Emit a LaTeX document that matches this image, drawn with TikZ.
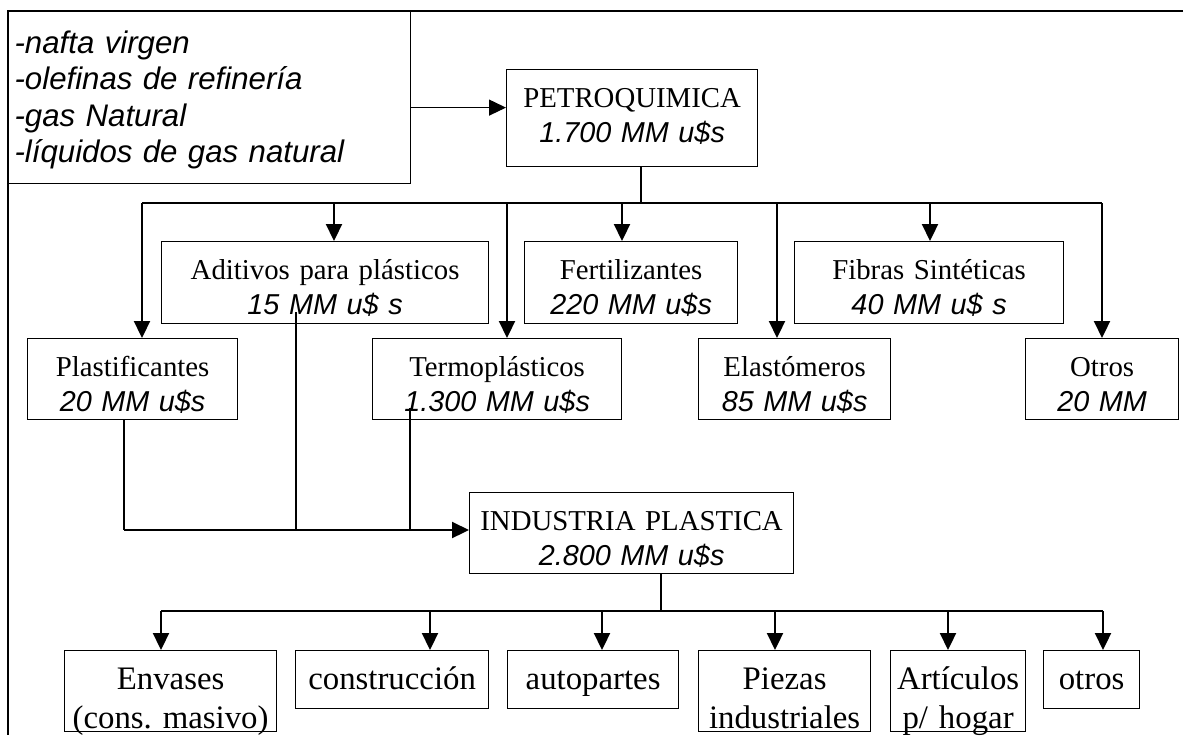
\documentclass[tikz,border=0pt]{standalone}
\usepackage{fontspec}
\setmainfont{Liberation Serif}
\newfontfamily\arialfam{Liberation Sans}
\usetikzlibrary{arrows.meta,calc}
\newcommand{\monto}[1]{{\arialfam\itshape #1}}

\begin{document}
\begin{tikzpicture}[x=0.5pt,y=0.5pt,
  caja/.style={draw,line width=0.6pt,inner sep=0pt,align=center,anchor=north west,
    font=\fontsize{14.4}{17.25}\selectfont,text height=19pt},
  cajab/.style={caja,font=\fontsize{16.4}{19.5}\selectfont,text height=19.5pt},
  linea/.style={line width=0.75pt},
  fina/.style={line width=0.55pt},
  flecha/.style={-{Triangle[length=8.5pt,width=8pt]},line width=1.1pt}]
\useasboundingbox (0,0) rectangle (1187,-735);
% marco de la pagina
\draw[line width=0.6pt] (1183,-11) -- (8,-11) -- (8,-735);
\node[caja,align=left,inner xsep=3pt,text width=195pt,text height=20.85pt,text depth=65.15pt,
  font=\fontsize{15.6}{18.25}\selectfont\arialfam\itshape] (insumos) at (8,-11)
  {-nafta virgen\\-olefinas de refinería\\-gas Natural\\-líquidos de gas natural};
\node[caja,text width=125.5pt,text depth=29.5pt] (petro) at (506,-69)
  {PETROQUIMICA\\\monto{1.700 MM u\$s}};
% derivados
\node[caja,text width=163.5pt,text depth=22pt] (aditivos) at (161,-241)
  {Aditivos para plásticos\\\monto{15 MM u\$ s}};
\node[caja,text width=106.5pt,text depth=22pt] (fertil) at (524,-241)
  {Fertilizantes\\\monto{220 MM u\$s}};
\node[caja,text width=134.5pt,text depth=22pt] (fibras) at (794,-241)
  {Fibras Sintéticas\\\monto{40 MM u\$ s}};
\node[caja,text width=105pt,text depth=21.5pt] (plastif) at (27,-338)
  {Plastificantes\\\monto{20 MM u\$s}};
\node[caja,text width=124.5pt,text depth=21.5pt] (termo) at (372,-338)
  {Termoplásticos\\\monto{1.300 MM u\$s}};
\node[caja,text width=96pt,text depth=21.5pt] (elast) at (698,-338)
  {Elastómeros\\\monto{85 MM u\$s}};
\node[caja,text width=76.5pt,text depth=21.5pt] (otros) at (1025,-338)
  {Otros\\\monto{20 MM}};
\node[caja,text width=162pt,text depth=21.5pt] (industria) at (469,-492)
  {INDUSTRIA PLASTICA\\\monto{2.800 MM u\$s}};
% destinos
\node[cajab,text width=106pt,text depth=21pt] (envases) at (64,-650)
  {Envases\\(cons.\ masivo)};
\node[cajab,text width=96.5pt,text depth=9.5pt] (construc) at (295,-650) {construcción};
\node[cajab,text width=85.5pt,text depth=9.5pt] (autopartes) at (507,-650) {autopartes};
\node[cajab,text width=86pt,text depth=21pt] (piezas) at (698,-650)
  {Piezas\\industriales};
\node[cajab,text width=67.5pt,text depth=21pt] (articulos) at (890,-650)
  {Artículos\\p/ hogar};
\node[cajab,text width=48pt,text depth=9.5pt] (otrosb) at (1043,-650) {otros};

\draw[flecha,line width=0.6pt] ([yshift=-5pt]insumos.east) -- ([yshift=-5pt]insumos.east -| petro.west);
\coordinate (pS) at (641,-203);
\draw[fina] (petro.south -| pS) -- (pS);
\foreach \x/\dest in {142/plastif,334/aditivos,507/termo,622/fertil,777/elast,930/fibras,1102/otros}{
  \coordinate (b\dest) at (\x,-203);
  \draw[flecha] (b\dest) -- (b\dest |- \dest.north);
}
\draw[linea] (bplastif) -- (botros);

\coordinate (iP) at (124,-530);
\coordinate (iA) at (296,-530);
\coordinate (iT) at (410,-530);
\draw[fina] (plastif.south -| iP) -- (iP);
\draw[fina] ([yshift=6pt]aditivos.south -| iA) -- (iA);
\draw[fina] ([yshift=6pt]termo.south -| iT) -- (iT);
\draw[flecha] (iP) -- (iP -| industria.west);

\coordinate (iS) at (661,-611);
\draw[fina] (industria.south -| iS) -- (iS);
\foreach \x/\dest in {161/envases,430/construc,602/autopartes,775/piezas,948/articulos,1103/otrosb}{
  \coordinate (c\dest) at (\x,-611);
  \draw[flecha] (c\dest) -- (c\dest |- \dest.north);
}
\draw[linea] (cenvases) -- (cotrosb);
\end{tikzpicture}
\end{document}
